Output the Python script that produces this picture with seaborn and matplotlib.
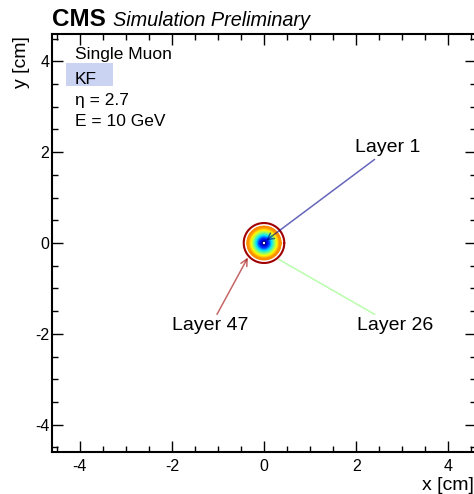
import numpy as np
import pandas as pd
import matplotlib
matplotlib.use("Agg")
import matplotlib.pyplot as plt
from matplotlib.colors import LinearSegmentedColormap
from matplotlib.patches import Rectangle
from matplotlib.ticker import MultipleLocator
import seaborn as sns

# Track uncertainty circle radius (cm) at each detector layer
layers = list(range(1, 48))
radii = [0.05, 0.06, 0.07, 0.08, 0.09, 0.10, 0.11, 0.12, 0.13, 0.14,
         0.15, 0.155, 0.16, 0.17, 0.175, 0.18, 0.19, 0.195, 0.20, 0.21,
         0.215, 0.22, 0.23, 0.235, 0.24, 0.25, 0.255, 0.26, 0.27, 0.275,
         0.28, 0.29, 0.295, 0.30, 0.305, 0.31, 0.315, 0.32, 0.325, 0.33,
         0.335, 0.34, 0.345, 0.35, 0.355, 0.36, 0.44]

# Annotated layers: label position and arrow tail / head (cm)
ann_layers = [1, 26, 47]
ann_labels = ["Layer 1", "Layer 26", "Layer 47"]
ann_text_xy = [(2.68, 2.10), (2.84, -1.82), (-1.16, -1.82)]
ann_tail_xy = [(2.40, 1.84), (2.40, -1.57), (-1.02, -1.57)]
ann_head_xy = [(0.04, 0.05), (0.32, -0.36), (-0.35, -0.32)]
ann_heads = ["->", "-", "->"]

info_lines = ["Single Muon", "KF", "η = 2.7", "E = 10 GeV"]
ticks = [-4, -2, 0, 2, 4]

sns.set_theme(style="ticks")
plt.rcParams["font.family"] = ["Liberation Sans", "DejaVu Sans"]
plt.rcParams["text.color"] = "black"
plt.rcParams["axes.labelcolor"] = "black"

palette = LinearSegmentedColormap.from_list(
    "layers",
    [(0.0, "#000090"), (0.12, "#0010ff"), (0.35, "#00e8ff"),
     (0.55, "#8cff70"), (0.72, "#ffff00"), (0.98, "#ff9000"),
     (1.0, "#a00000")])

theta = np.linspace(0, 2 * np.pi, 241)
frames = []
for lay, r in zip(layers, radii):
    frames.append(pd.DataFrame({"x": r * np.cos(theta),
                                "y": r * np.sin(theta),
                                "layer": lay}))
df = pd.concat(frames, ignore_index=True)

fig = plt.figure(figsize=(4.74, 4.94), dpi=100)
ax = fig.add_axes([52 / 474, 42 / 494, 424 / 474, 418 / 494])

sns.lineplot(data=df, x="x", y="y", hue="layer", units="layer",
             palette=palette, hue_norm=(1, 47), estimator=None,
             sort=False, legend=False, linewidth=1.5, ax=ax)

for lay, lab, txy, tail, head, hs in zip(ann_layers, ann_labels, ann_text_xy,
                                         ann_tail_xy, ann_head_xy, ann_heads):
    col = palette((lay - 1) / 46)
    ax.annotate("", xy=head, xytext=tail,
                arrowprops=dict(arrowstyle=hs, color=col, alpha=0.6,
                                lw=1.1, shrinkA=0, shrinkB=0,
                                mutation_scale=12))
    ax.text(txy[0], txy[1], lab, ha="center", va="center", fontsize=14,
            color="black")

ax.set_xlim(-4.6, 4.6)
ax.set_ylim(-4.6, 4.6)
ax.set_xticks(ticks)
ax.set_yticks(ticks)
ax.set_xticklabels([str(t) for t in ticks])
ax.set_yticklabels([str(t) for t in ticks])
ax.xaxis.set_minor_locator(MultipleLocator(0.5))
ax.yaxis.set_minor_locator(MultipleLocator(0.5))
ax.tick_params(which="both", direction="in", top=True, right=True,
               colors="black", labelcolor="black", labelsize=11.5, width=1.0)
ax.tick_params(which="major", length=8)
ax.tick_params(which="minor", length=4)
ax.tick_params(axis="y", which="major", pad=2)
ax.tick_params(axis="x", which="major", pad=5)
for sp in ax.spines.values():
    sp.set_linewidth(1.5)
    sp.set_color("black")
ax.set_xlabel("")
ax.set_ylabel("")

fig.text(474 / 474, 1 - 485 / 494, "x [cm]", ha="right", va="center",
         fontsize=14)
fig.text(22 / 474, 1 - 36 / 494, "y [cm]", ha="center", va="top",
         rotation=90, fontsize=14)

# Header
fig.text(52 / 474, 1 - 26 / 494, "CMS", ha="left", va="baseline",
         fontsize=17.5, fontweight="bold")
fig.text(113 / 474, 1 - 26 / 494, "Simulation Preliminary", ha="left",
         va="baseline", fontsize=14.3, style="italic")

# Info block with highlighted method label
ax.add_patch(Rectangle((14 / 424, (452 - 86) / 418), 47 / 424, 23 / 418,
                       transform=ax.transAxes, facecolor="#cbd3f3",
                       edgecolor="none", zorder=1))
info_y = [54, 79, 100, 122]
for txt, py in zip(info_lines, info_y):
    ax.text(23 / 424, (452 - py) / 418, txt, transform=ax.transAxes,
            ha="left", va="center", fontsize=12.5, zorder=2)

fig.savefig("out.png", dpi=100)
